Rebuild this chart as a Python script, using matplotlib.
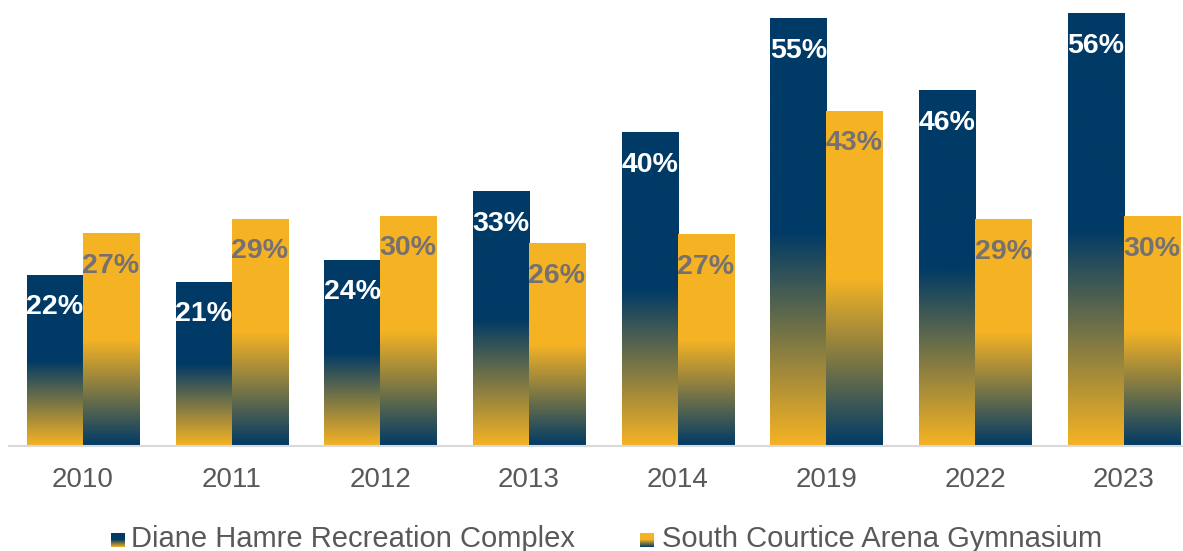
import numpy as np
import matplotlib.pyplot as plt
from matplotlib.colors import to_rgb

plt.rcParams['font.family'] = ['Liberation Sans', 'DejaVu Sans']

years = ['2010', '2011', '2012', '2013', '2014', '2019', '2022', '2023']
diane = [22.0, 21.1, 23.9, 32.7, 40.3, 55.0, 45.7, 55.6]
courtice = [27.3, 29.2, 29.6, 26.0, 27.2, 43.1, 29.1, 29.5]
names = ['Diane Hamre Recreation Complex', 'South Courtice Arena Gymnasium']

navy = '#003A66'
gold = '#F5B324'
grey = '#595959'


def grad(top, bottom, n=200):
    # solid colour in upper half, linear blend to the other colour at the bottom
    t = np.linspace(0, 1, n)
    m = np.clip(t / 0.5, 0, 1)
    c = np.outer(1 - m, to_rgb(bottom)) + np.outer(m, to_rgb(top))
    return c[::-1, None, :]


fig = plt.figure(figsize=(11.83, 5.51), dpi=100)
ax = fig.add_axes([8.6 / 1183, 105 / 551, 1189.4 / 1183, 446 / 551])

x = np.arange(len(years))
w = 0.377
b1 = ax.bar(x - w / 2, diane, w, color='none')
b2 = ax.bar(x + w / 2, courtice, w, color='none')

for bars, top, bot, tc in [(b1, navy, gold, 'white'), (b2, gold, navy, '#767171')]:
    for r in bars:
        h = r.get_height()
        ax.imshow(grad(top, bot), extent=[r.get_x(), r.get_x() + r.get_width(), 0, h],
                  aspect='auto', interpolation='bilinear', zorder=2)
        ax.annotate(f'{round(h)}%', (r.get_x() + r.get_width() / 2, h), xytext=(0, -23),
                    textcoords='offset points', ha='center', va='center',
                    color=tc, fontsize=20.5, fontweight='bold', zorder=3)

ax.set_xlim(-0.5, 7.5)
ax.set_ylim(0, 57.4)
ax.set_xticks(x)
ax.set_xticklabels(years, fontsize=20, color=grey)
ax.tick_params(axis='x', length=0, pad=15)
ax.set_yticks([])
for s in ['top', 'right', 'left']:
    ax.spines[s].set_visible(False)
ax.spines['bottom'].set_color('#D9D9D9')
ax.spines['bottom'].set_linewidth(1.5)

# legend
for mx, tx, top, bot, name in [(111, 131, navy, gold, names[0]), (640, 662, gold, navy, names[1])]:
    lax = fig.add_axes([mx / 1183, (551 - 547) / 551, 14 / 1183, 14 / 551])
    lax.imshow(grad(top, bot), aspect='auto', interpolation='bilinear')
    lax.axis('off')
    fig.text(tx / 1183, 1 - 539 / 551, name, va='center', ha='left', fontsize=21, color=grey)

fig.savefig('out.png', dpi=100)
